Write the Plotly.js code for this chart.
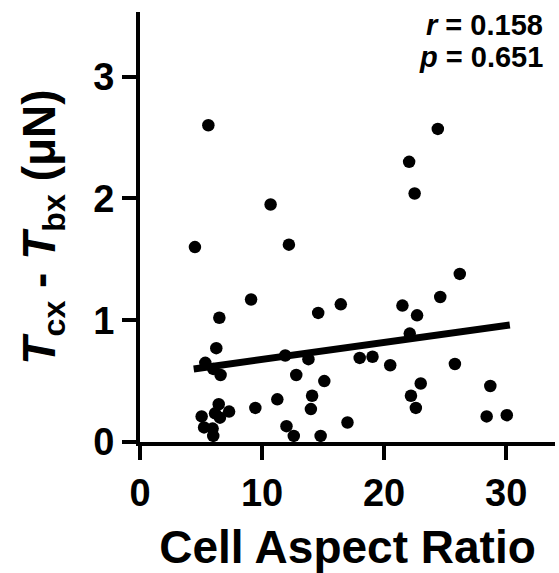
<!DOCTYPE html>
<html>
<head>
<meta charset="utf-8">
<script src="https://cdn.plot.ly/plotly-3.0.1.min.js"></script>
<style>html,body{margin:0;padding:0;background:#fff;}#chart{width:559px;height:573px;}</style>
</head>
<body>
<div id="chart"></div>
<script>
// Cell aspect ratio (x) and Tcx - Tbx in µN (y)
const aspectRatio = [4.5, 5.6, 10.7, 12.2, 24.4, 22.05, 22.5, 26.2, 9.1, 6.5,
  14.6, 6.25, 5.35, 6.0, 6.6, 11.9, 13.8, 12.8, 15.1, 11.25,
  14.1, 14.0, 9.45, 6.45, 7.3, 6.15, 6.55, 5.05, 5.25, 5.95,
  6.0, 12.0, 12.6, 14.8, 24.6, 16.45, 21.5, 22.7, 22.1, 18.0,
  19.05, 20.5, 25.8, 23.0, 22.2, 22.6, 28.7, 28.4, 30.05, 17.0];
const tensionDiff = [1.60, 2.60, 1.95, 1.62, 2.57, 2.30, 2.04, 1.38, 1.17, 1.02,
  1.06, 0.77, 0.65, 0.60, 0.55, 0.71, 0.68, 0.55, 0.50, 0.35,
  0.38, 0.27, 0.28, 0.31, 0.25, 0.235, 0.20, 0.21, 0.12, 0.11,
  0.05, 0.13, 0.05, 0.05, 1.19, 1.13, 1.12, 1.04, 0.89, 0.69,
  0.70, 0.63, 0.64, 0.48, 0.38, 0.28, 0.46, 0.21, 0.22, 0.16];
// Linear fit end points
const fitX = [4.4, 30.3];
const fitY = [0.60, 0.96];
const xTicks = [0, 10, 20, 30];
const yTicks = [0, 1, 2, 3];
const statR = '<i>r</i> = 0.158';
const statP = '<i>p</i> = 0.651';

const FONT = 'Liberation Sans, Arial, Helvetica, sans-serif';

const traces = [
  {
    x: aspectRatio, y: tensionDiff, type: 'scatter', mode: 'markers',
    marker: {color: '#000', size: 12.5}, cliponaxis: false, showlegend: false
  },
  {
    x: fitX, y: fitY, type: 'scatter', mode: 'lines',
    line: {color: '#000', width: 7}, showlegend: false
  }
];

const axisCommon = {
  showgrid: false, zeroline: false, showline: true, linecolor: '#000', linewidth: 4,
  ticks: 'outside', ticklen: 14, tickwidth: 4, tickcolor: '#000',
  tickfont: {family: FONT, size: 38, color: '#000', weight: 'bold'}
};

const layout = {
  width: 559, height: 573,
  margin: {l: 140, r: 4, t: 12, b: 131},
  paper_bgcolor: '#fff', plot_bgcolor: '#fff',
  font: {family: FONT, color: '#000'},
  xaxis: Object.assign({}, axisCommon, {
    range: [0, 34], tickvals: xTicks, ticktext: xTicks.map(String),
    title: {text: 'Cell Aspect Ratio', font: {family: FONT, size: 46, color: '#000', weight: 'bold'}, standoff: 22}
  }),
  yaxis: Object.assign({}, axisCommon, {
    range: [0, 3.53], tickvals: yTicks, ticktext: yTicks.map(String),
    title: {text: '<i>T</i><sub>cx</sub> - <i>T</i><sub>bx</sub> (μN)', font: {family: FONT, size: 46, color: '#000', weight: 'bold'}, standoff: 24}
  }),
  annotations: [
    {xref: 'paper', yref: 'paper', x: 0.976, y: 0.97, xanchor: 'right', yanchor: 'middle',
     text: statR, showarrow: false, font: {family: FONT, size: 29, color: '#000', weight: 'bold'}},
    {xref: 'paper', yref: 'paper', x: 0.976, y: 0.895, xanchor: 'right', yanchor: 'middle',
     text: statP, showarrow: false, font: {family: FONT, size: 29, color: '#000', weight: 'bold'}}
  ]
};

Plotly.newPlot('chart', traces, layout, {displayModeBar: false, staticPlot: true});
</script>
</body>
</html>
